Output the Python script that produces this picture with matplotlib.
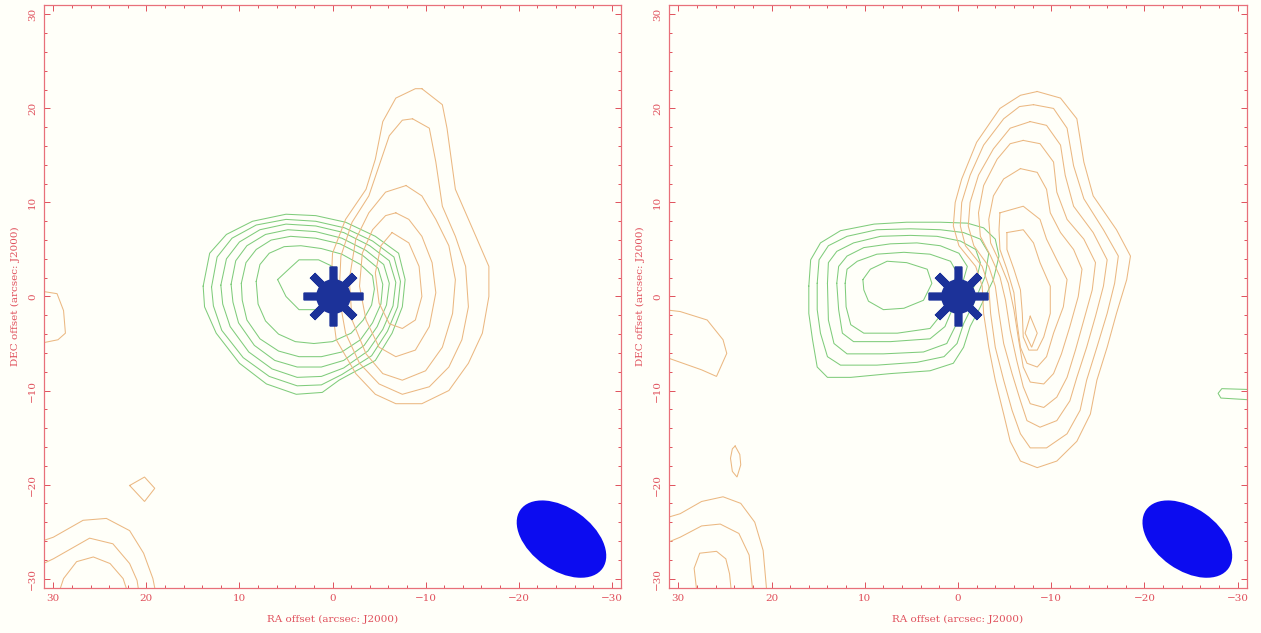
import matplotlib.pyplot as plt
from matplotlib.patches import Ellipse
from matplotlib.ticker import MultipleLocator

# contour traces (RA offset, DEC offset in arcsec)
left_green = [
    [(13.9, 1.1), (13.2, 4.6), (11.4, 6.6), (8.6, 8.0), (5.0, 8.75), (1.8, 8.6), (-1.4, 7.9), (-4.6, 6.4),
     (-7.1, 4.6), (-7.8, 1.8), (-7.5, -1.1), (-6.4, -3.9), (-4.6, -6.8), (-0.7, -8.9), (1.1, -10.2),
     (3.9, -10.4), (7.1, -9.3), (10.0, -7.1), (12.5, -3.9), (13.75, -1.1)],
    [(13.0, 1.0), (12.4, 4.2), (10.8, 6.2), (8.2, 7.6), (5.0, 8.2), (1.8, 8.0), (-1.3, 7.3), (-4.3, 5.9),
     (-6.6, 4.2), (-7.3, 1.6), (-7.0, -1.1), (-5.9, -3.7), (-4.2, -6.3), (-1.0, -8.3), (1.2, -9.4),
     (3.8, -9.5), (6.8, -8.5), (9.6, -6.5), (11.9, -3.6), (12.8, -1.0)],
    [(12.0, 1.2), (11.4, 4.0), (10.0, 5.8), (7.8, 7.1), (5.0, 7.7), (1.8, 7.5), (-1.2, 6.8), (-4.0, 5.4),
     (-6.1, 3.8), (-6.8, 1.5), (-6.5, -1.0), (-5.4, -3.5), (-3.8, -5.8), (-1.2, -7.6), (1.2, -8.5),
     (3.8, -8.6), (6.5, -7.7), (9.0, -5.9), (11.0, -3.2), (11.8, -0.8)],
    [(10.9, 1.3), (10.4, 3.8), (9.2, 5.4), (7.2, 6.6), (4.8, 7.1), (1.8, 6.9), (-1.0, 6.2), (-3.6, 4.9),
     (-5.5, 3.4), (-6.1, 1.4), (-5.8, -0.9), (-4.8, -3.2), (-3.4, -5.2), (-1.2, -6.8), (1.2, -7.5),
     (3.8, -7.5), (6.2, -6.8), (8.4, -5.2), (10.1, -2.8), (10.7, -0.6)],
    [(9.8, 1.4), (9.3, 3.6), (8.2, 5.0), (6.6, 6.0), (4.5, 6.4), (1.8, 6.2), (-0.8, 5.6), (-3.2, 4.4),
     (-4.9, 3.0), (-5.4, 1.3), (-5.2, -0.8), (-4.3, -2.8), (-3.0, -4.6), (-1.0, -5.9), (1.2, -6.4),
     (3.6, -6.4), (5.8, -5.8), (7.8, -4.5), (9.2, -2.5), (9.7, -0.4)],
    [(8.2, 1.6), (7.8, 3.4), (6.8, 4.6), (5.2, 5.3), (3.4, 5.4), (1.2, 5.1), (-1.0, 4.5), (-3.0, 3.4),
     (-4.3, 2.2), (-4.5, 0.8), (-4.2, -0.9), (-3.3, -2.5), (-2.0, -3.9), (0.0, -4.8), (2.0, -5.0),
     (4.0, -4.8), (5.8, -4.0), (7.2, -2.6), (8.0, -0.8)],
    [(5.9, 1.8), (4.6, 3.0), (3.6, 3.9), (1.5, 3.9), (0.0, 3.2), (-0.6, 1.5), (0.2, -0.5), (1.5, -1.4),
     (3.6, -1.4), (5.0, 0.0)],
]

left_orange = [
    [(-9.6, 22.1), (-11.8, 20.4), (-12.3, 17.9), (-13.2, 11.4), (-15.4, 6.4), (-16.8, 3.2), (-16.8, 0.0),
     (-16.1, -3.9), (-14.6, -7.1), (-12.5, -10.0), (-9.6, -11.4), (-6.8, -11.4), (-4.6, -10.4),
     (-2.5, -8.2), (-0.4, -4.6), (0.2, 0.0), (0.0, 4.6), (-1.4, 8.2), (-3.6, 11.4), (-4.6, 14.6),
     (-5.4, 18.6), (-6.8, 21.1), (-8.9, 22.1)],
    [(-8.6, 18.9), (-10.4, 17.9), (-11.1, 14.3), (-11.8, 9.6), (-13.2, 6.4), (-14.3, 3.2), (-14.6, -1.1),
     (-13.9, -4.6), (-12.5, -7.5), (-10.4, -9.6), (-7.5, -10.4), (-5.0, -9.3), (-2.9, -7.1),
     (-1.4, -3.9), (-0.7, 0.0), (-0.9, 4.3), (-2.1, 7.9), (-3.9, 10.7), (-5.0, 13.9), (-6.1, 17.1),
     (-7.5, 18.75)],
    [(-7.9, 11.8), (-9.6, 10.7), (-11.1, 8.2), (-12.5, 5.4), (-13.2, 1.8), (-12.9, -1.8), (-11.8, -5.4),
     (-10.0, -7.9), (-7.5, -8.9), (-5.4, -8.2), (-3.6, -6.1), (-2.1, -2.5), (-1.8, 1.8), (-2.5, 6.1),
     (-3.9, 8.9), (-5.7, 11.1)],
    [(-6.8, 8.9), (-8.2, 8.2), (-9.6, 6.4), (-10.7, 3.6), (-11.1, 0.4), (-10.4, -3.2), (-8.9, -5.7),
     (-6.8, -6.4), (-5.0, -5.4), (-3.6, -2.5), (-2.9, 1.1), (-3.2, 4.6), (-4.3, 7.1), (-5.7, 8.6)],
    [(-6.4, 6.8), (-8.2, 5.7), (-9.3, 3.2), (-9.6, 0.0), (-8.9, -2.5), (-7.5, -3.4), (-6.1, -2.9),
     (-5.0, -0.7), (-4.6, 2.5), (-5.2, 5.4)],
    [(21.8, -20.1), (20.2, -19.2), (19.1, -20.4), (20.2, -21.8)],
]

left_orange_open = [
    [(31.5, 0.6), (29.6, 0.3), (28.9, -1.5), (28.7, -3.9), (29.5, -4.6), (31.5, -5.0)],
    [(31.5, -26.1), (30.0, -25.6), (26.8, -23.8), (24.3, -23.6), (21.8, -24.9), (20.3, -27.3),
     (19.3, -30.0), (19.0, -31.5)],
    [(31.5, -28.6), (30.0, -27.9), (26.1, -25.7), (23.6, -26.3), (21.8, -28.4), (21.0, -30.2),
     (20.8, -31.5)],
    [(29.4, -31.5), (28.9, -30.0), (27.5, -28.2), (25.7, -27.7), (23.9, -28.4), (22.5, -30.0),
     (22.0, -31.5)],
]

right_green = [
    [(16.0, 1.1), (15.8, 3.9), (14.75, 5.7), (12.6, 7.0), (9.0, 7.7), (5.5, 7.9), (1.9, 7.9), (-1.0, 7.8),
     (-2.75, 7.3), (-4.0, 6.1), (-4.4, 4.3), (-3.8, 1.8), (-2.4, -1.1), (-1.3, -3.2), (-0.6, -5.4),
     (0.5, -7.1), (3.0, -7.9), (7.25, -8.2), (11.5, -8.6), (14.0, -8.6), (15.1, -7.5), (15.6, -4.6),
     (16.0, -1.8)],
    [(15.1, 1.4), (14.9, 3.9), (13.9, 5.4), (11.9, 6.4), (8.7, 7.1), (5.1, 7.2), (1.9, 7.1), (-0.6, 6.8),
     (-2.4, 6.1), (-3.3, 4.6), (-2.9, 2.1), (-1.7, -0.7), (-0.6, -2.9), (0.1, -5.0), (1.5, -6.4),
     (4.4, -7.0), (8.7, -7.3), (12.6, -7.3), (14.0, -6.4), (14.75, -3.9), (15.1, -1.4)],
    [(14.0, 1.4), (13.9, 3.6), (13.0, 4.8), (11.2, 5.7), (8.3, 6.4), (5.1, 6.5), (2.25, 6.4), (-0.25, 5.9),
     (-1.9, 5.0), (-2.4, 3.6), (-1.9, 1.4), (-0.6, -1.1), (0.3, -3.2), (1.2, -5.0), (3.7, -5.9),
     (8.0, -6.1), (11.9, -6.1), (13.3, -5.0), (13.9, -2.5)],
    [(13.0, 1.4), (12.8, 3.2), (11.9, 4.3), (10.1, 5.2), (7.25, 5.6), (4.4, 5.7), (1.9, 5.4), (-0.1, 4.6),
     (-1.0, 3.2), (-0.4, 1.1), (0.5, -1.1), (1.4, -3.2), (3.0, -4.5), (7.25, -4.8), (11.2, -4.8),
     (12.4, -3.9), (12.8, -1.4)],
    [(12.1, 1.4), (11.9, 2.9), (10.8, 3.75), (8.7, 4.5), (5.8, 4.7), (3.0, 4.5), (0.8, 3.75), (0.1, 2.5),
     (0.8, 0.4), (1.7, -1.8), (3.0, -3.4), (6.5, -3.9), (10.1, -3.9), (11.5, -3.0), (12.0, -1.1)],
    [(10.2, 1.8), (9.4, 2.9), (7.6, 3.75), (5.5, 3.6), (3.3, 2.9), (2.8, 1.4), (3.7, -0.4), (5.8, -1.25),
     (8.0, -1.4), (9.6, -0.5), (10.1, 0.7)],
]

right_green_open = [
    [(-31.5, -9.9), (-28.3, -9.8), (-27.9, -10.3), (-28.2, -10.8), (-31.5, -11.0)],
]

right_orange = [
    [(-8.5, 21.8), (-11.0, 21.1), (-12.75, 18.9), (-13.5, 14.3), (-14.5, 10.7), (-17.0, 7.1),
     (-18.5, 4.3), (-18.1, 1.8), (-17.0, -1.8), (-16.0, -5.4), (-14.9, -8.9), (-14.2, -12.5),
     (-12.75, -15.4), (-10.6, -17.5), (-8.5, -18.2), (-6.7, -17.5), (-5.6, -15.4), (-4.9, -12.5),
     (-4.0, -8.9), (-3.3, -5.4), (-2.75, -1.8), (-2.6, 1.1), (-1.9, 3.2), (-0.1, 5.4), (0.5, 7.5),
     (0.3, 10.0), (-0.4, 12.5), (-2.0, 16.4), (-4.5, 20.0), (-6.7, 21.4)],
    [(-8.1, 20.4), (-10.25, 20.0), (-11.7, 17.9), (-12.4, 13.9), (-13.5, 10.4), (-15.6, 7.1),
     (-17.2, 4.3), (-16.8, 1.4), (-16.0, -1.8), (-14.9, -5.4), (-13.8, -8.9), (-13.1, -12.1),
     (-11.7, -14.6), (-9.5, -16.1), (-7.75, -16.1), (-6.7, -14.6), (-5.8, -12.1), (-4.9, -8.9),
     (-4.0, -5.4), (-3.5, -1.8), (-3.3, 1.1), (-2.6, 3.2), (-0.8, 5.4), (-0.25, 7.5), (-0.4, 10.0),
     (-1.3, 12.9), (-2.75, 16.1), (-4.9, 18.9), (-6.6, 20.2)],
    [(-7.75, 18.6), (-9.5, 18.2), (-11.0, 16.1), (-11.5, 12.9), (-12.4, 9.6), (-14.5, 6.8), (-16.0, 3.9),
     (-15.6, 1.1), (-14.75, -2.1), (-13.8, -5.4), (-12.75, -8.6), (-12.0, -11.1), (-10.6, -13.2),
     (-8.8, -13.9), (-7.4, -13.2), (-6.7, -11.1), (-5.8, -8.2), (-4.9, -5.0), (-4.4, -1.8), (-4.0, 1.1),
     (-3.3, 3.2), (-1.7, 5.4), (-1.1, 7.5), (-1.3, 10.0), (-2.2, 12.9), (-3.8, 15.7), (-5.6, 17.9)],
    [(-7.0, 16.6), (-8.8, 16.25), (-10.25, 14.3), (-10.6, 11.1), (-11.7, 8.2), (-13.5, 6.1),
     (-14.75, 3.6), (-14.4, 0.7), (-13.5, -2.5), (-12.6, -5.7), (-11.7, -8.6), (-10.6, -10.7),
     (-9.2, -11.8), (-7.75, -11.4), (-7.0, -9.6), (-6.3, -6.8), (-5.6, -3.6), (-5.1, -0.4), (-4.5, 2.1),
     (-3.5, 4.3), (-2.4, 6.4), (-2.2, 8.9), (-2.75, 11.8), (-4.2, 14.6), (-5.6, 16.25)],
    [(-6.7, 13.6), (-8.5, 13.2), (-9.5, 11.4), (-9.9, 8.9), (-11.0, 6.8), (-12.4, 5.0), (-13.3, 2.9),
     (-12.9, 0.0), (-12.0, -3.2), (-11.1, -6.1), (-10.25, -8.2), (-9.2, -9.3), (-7.75, -9.1),
     (-7.0, -7.5), (-6.5, -4.6), (-6.0, -1.4), (-5.4, 1.4), (-4.5, 3.6), (-3.5, 5.7), (-3.3, 8.2),
     (-3.8, 10.7), (-4.9, 12.5)],
    [(-4.5, 8.9), (-7.0, 9.6), (-8.8, 8.2), (-9.5, 6.1), (-10.6, 3.9), (-11.7, 1.8), (-11.3, -1.1),
     (-10.25, -3.9), (-9.5, -6.4), (-8.5, -7.5), (-7.4, -7.1), (-6.7, -5.4), (-6.3, -2.5), (-6.0, 0.4),
     (-5.25, 2.9), (-4.5, 5.0), (-4.4, 7.1)],
    [(-5.25, 6.8), (-7.0, 7.1), (-8.1, 5.7), (-8.8, 3.6), (-9.9, 1.1), (-9.9, -1.8), (-9.2, -4.3),
     (-8.5, -5.7), (-7.6, -5.7), (-7.0, -4.3), (-6.9, -1.8), (-6.7, 0.7), (-6.0, 2.9), (-5.25, 5.0)],
    [(-7.75, -2.1), (-8.5, -3.9), (-7.9, -5.4), (-7.2, -3.9)],
    [(23.9, -15.9), (23.4, -16.8), (23.3, -17.9), (23.7, -19.2), (24.2, -18.6), (24.4, -17.2),
     (24.2, -16.2)],
]

right_orange_open = [
    [(31.5, -1.4), (29.8, -1.6), (26.9, -2.5), (25.2, -4.6), (24.8, -6.05), (25.9, -8.5), (27.5, -7.8),
     (29.5, -7.1), (31.5, -6.4)],
    [(31.5, -23.6), (29.8, -23.1), (27.5, -21.8), (25.2, -21.3), (23.3, -22.0), (21.8, -24.0),
     (20.9, -27.0), (20.5, -31.5)],
    [(31.5, -26.3), (29.8, -25.6), (27.5, -24.4), (25.5, -24.2), (23.5, -25.2), (22.4, -27.5),
     (22.0, -31.5)],
    [(28.0, -31.5), (28.3, -28.9), (27.7, -27.3), (25.9, -27.1), (24.9, -27.9), (24.5, -29.5),
     (24.3, -31.5)],
]

star_ra = [0.0]
star_dec = [0.0]

# synthesized beam: centre, major, minor (arcsec), position angle (deg)
beam_ra = -24.6
beam_dec = -25.8
beam_major = 10.8
beam_minor = 6.6
beam_pa = 35

red = '#e0505c'
frame_red = '#e8707a'
green = '#80cc7c'
orange = '#ebb882'
star_blue = '#1c3299'
beam_blue = '#0c0cf0'
bg = '#fffff9'


def draw_lines(ax, rings, color, closed):
    for ring in rings:
        pts = list(ring) + ([ring[0]] if closed else [])
        xs = [p[0] for p in pts]
        ys = [p[1] for p in pts]
        ax.plot(xs, ys, color=color, lw=0.75, solid_joinstyle='miter')


def draw_panel(ax, greens, oranges, green_open, orange_open):
    ax.set_facecolor(bg)
    draw_lines(ax, greens, green, True)
    draw_lines(ax, oranges, orange, True)
    draw_lines(ax, green_open, green, False)
    draw_lines(ax, orange_open, orange, False)

    ax.plot(star_ra, star_dec, 'o', ms=25, color=star_blue, mec='none')
    ax.plot(star_ra, star_dec, marker=(8, 2, 0), ms=43, mew=5.5, color=star_blue, ls='none')

    ax.add_patch(Ellipse((beam_ra, beam_dec), beam_major, beam_minor, angle=beam_pa,
                         facecolor=beam_blue, edgecolor='none'))

    ax.set_xlim(31, -31)
    ax.set_ylim(-31, 31)
    ax.set_xticks([30, 20, 10, 0, -10, -20, -30])
    ax.set_yticks([30, 20, 10, 0, -10, -20, -30])
    ax.xaxis.set_minor_locator(MultipleLocator(2))
    ax.yaxis.set_minor_locator(MultipleLocator(2))
    ax.tick_params(which='both', direction='in', top=True, right=True, color=red,
                   labelcolor=red, labelsize=7.5, width=0.7)
    ax.tick_params(which='major', length=4.5)
    ax.tick_params(which='minor', length=2.2)
    ax.tick_params(axis='x', pad=4)
    ax.tick_params(axis='y', labelrotation=90, pad=5)
    for lab in ax.get_yticklabels():
        lab.set_va('center')
    for s in ax.spines.values():
        s.set_color(frame_red)
        s.set_linewidth(0.9)
    ax.set_xlabel('RA offset (arcsec: J2000)', color=red, fontsize=7.5, labelpad=9)
    ax.set_ylabel('DEC offset (arcsec: J2000)', color=red, fontsize=7.5, labelpad=6)


plt.rcParams['font.family'] = ['DejaVu Serif']
fig = plt.figure(figsize=(12.61, 6.33), dpi=100, facecolor=bg)
ax1 = fig.add_axes([0.0349, 0.0711, 0.4576, 0.921])
ax2 = fig.add_axes([0.5305, 0.0711, 0.4584, 0.921])

draw_panel(ax1, left_green, left_orange, [], left_orange_open)
draw_panel(ax2, right_green, right_orange, right_green_open, right_orange_open)

fig.savefig('out.png', dpi=100, facecolor=bg)
